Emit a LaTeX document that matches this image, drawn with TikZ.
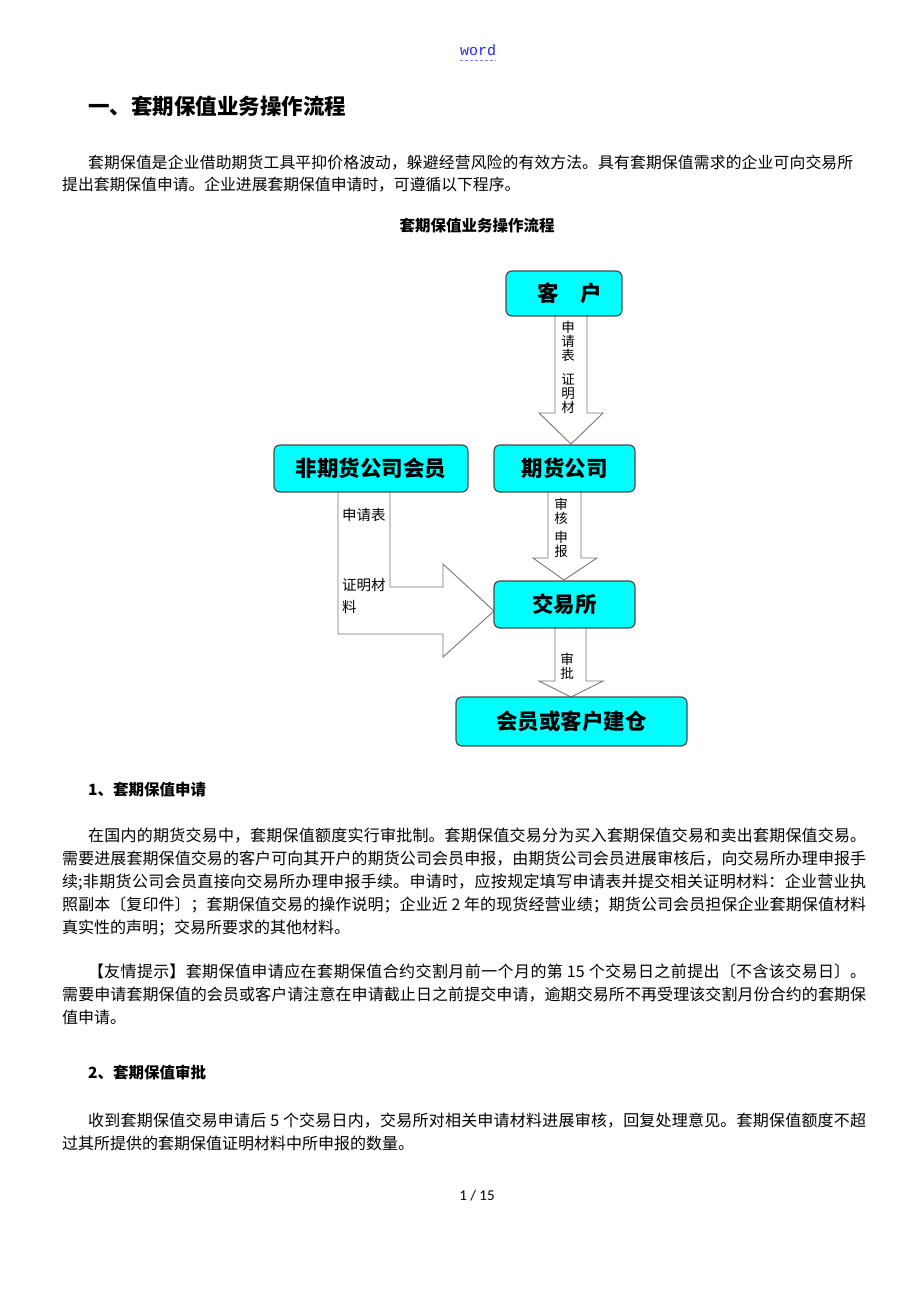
\documentclass[tikz,border=0pt]{standalone}
\usepackage{fontspec}
\usetikzlibrary{calc}
\newfontfamily\cjk{Noto Sans CJK SC}
\newfontfamily\monof{Liberation Mono}
\newfontfamily\calib{Carlito}
\XeTeXlinebreaklocale "zh"
\XeTeXlinebreakskip=0pt plus 1.5pt
\setlength{\parindent}{0pt}
\definecolor{boxc}{HTML}{00FFFF}
\definecolor{edgec}{HTML}{4A4A4A}
\definecolor{arrc}{HTML}{767676}
\definecolor{linkblue}{HTML}{2626FF}
\definecolor{linkul}{HTML}{8080FF}
\begin{document}
\begin{tikzpicture}[x=1pt,y=-1pt,
  para/.style={anchor=north west, inner sep=0pt, text width=804pt, align=justify,
    font=\cjk\fontsize{16}{23}\selectfont},
  head/.style={anchor=west, inner sep=0pt, font=\cjk\bfseries\fontsize{15.5}{18}\selectfont},
  flowbox/.style={draw=edgec, line width=1.2pt, fill=boxc, rounded corners=6pt, inner sep=0pt,
    font=\cjk\bfseries\fontsize{21.5}{24}\selectfont},
  blockarr/.style={draw=arrc, line width=0.9pt, fill=white, line join=miter},
  vlab/.style={inner sep=0pt, align=center, font=\cjk\fontsize{13.5}{14}\selectfont},
  hlab/.style={inner sep=0pt, anchor=west, font=\cjk\fontsize{14.5}{15}\selectfont}
]
\useasboundingbox (0,0) rectangle (920,1302);
\fill[white] (0,0) rectangle (920,1302);

% header
\node[inner sep=0pt, text=linkblue, font=\monof\fontsize{15}{15}\selectfont] (word) at (478,50) {word};
\draw[linkul, line width=1pt, dash pattern=on 3pt off 2pt]
  ($(word.south west)+(0,5)$) -- ($(word.south east)+(0,5)$);

\node[anchor=west, inner sep=0pt, font=\cjk\bfseries\fontsize{21.5}{24}\selectfont] (title) at (88,106) {一、套期保值业务操作流程};

\node[para, text width=791pt, font=\cjk\fontsize{15.8}{22}\selectfont] (intro) at (62,155) {\hspace*{26pt}套期保值是企业借助期货工具平抑价格波动，躲避经营风险的有效方法。具有套期保值需求的企业可向交易所\linebreak
提出套期保值申请。企业进展套期保值申请时，可遵循以下程序。};

\node[inner sep=0pt, font=\cjk\bfseries\fontsize{15.5}{18}\selectfont] (cap) at (477,226) {套期保值业务操作流程};

% flowchart arrows
\draw[blockarr] (555,310) -- (555,413) -- (539,413) -- (571,444) -- (603,413) -- (587,413) -- (587,310) -- cycle;
\draw[blockarr] (548,486) -- (548,558) -- (533,558) -- (564,580) -- (597,558) -- (581,558) -- (581,486) -- cycle;
\draw[blockarr] (555,622) -- (555,681) -- (539,681) -- (571,697) -- (603,681) -- (586,681) -- (586,622) -- cycle;
\draw[blockarr] (338,486) -- (338,634) -- (443,634) -- (443,657) -- (494,611) -- (443,564) -- (443,587) -- (390,587) -- (390,486) -- cycle;

% flowchart boxes
\node[flowbox, minimum width=116pt, minimum height=45pt] (kehu) at (564,293.5) {\hspace*{12pt}客\hspace{22pt}户};
\node[flowbox, minimum width=141pt, minimum height=47pt] (qh) at (564.5,468.5) {期货公司};
\node[flowbox, minimum width=194pt, minimum height=47pt] (fqh) at (371,468.5) {非期货公司会员};
\node[flowbox, minimum width=141pt, minimum height=47pt] (jys) at (564.5,604.5) {交易所};
\node[flowbox, minimum width=231pt, minimum height=49pt] (jc) at (571.5,721.5) {会员或客户建仓};

% arrow labels
\node[vlab] (l1a) at (568,341) {申\\请\\表};
\node[vlab] (l1b) at (568,394) {证\\明\\材};
\node[vlab] (l2a) at (561,511) {审\\核};
\node[vlab] (l2b) at (561,544) {申\\报};
\node[vlab] (l3a) at (567,666) {审\\批};
\node[hlab] (l4a) at (342,515) {申请表};
\node[hlab] (l4b) at (342,585) {证明材};
\node[hlab] (l4c) at (342,607) {料};

% section 1
\node[head] (h1) at (88,790) {1、套期保值申请};
\node[para] (p1) at (62,828) {\hspace*{26pt}在国内的期货交易中，套期保值额度实行审批制。套期保值交易分为买入套期保值交易和卖出套期保值交易。\linebreak
需要进展套期保值交易的客户可向其开户的期货公司会员申报，由期货公司会员进展审核后，向交易所办理申报手\linebreak
续;非期货公司会员直接向交易所办理申报手续。申请时，应按规定填写申请表并提交相关证明材料：企业营业执\linebreak
照副本〔复印件〕；套期保值交易的操作说明；企业近 2 年的现货经营业绩；期货公司会员担保企业套期保值材料\linebreak
真实性的声明；交易所要求的其他材料。};

\node[para] (p2) at (62,964) {\hspace*{26pt}【友情提示】套期保值申请应在套期保值合约交割月前一个月的第 15 个交易日之前提出〔不含该交易日〕。\linebreak
需要申请套期保值的会员或客户请注意在申请截止日之前提交申请，逾期交易所不再受理该交割月份合约的套期保\linebreak
值申请。};

% section 2
\node[head] (h2) at (88,1073) {2、套期保值审批};
\node[para] (p3) at (62,1113) {\hspace*{26pt}收到套期保值交易申请后 5 个交易日内，交易所对相关申请材料进展审核，回复处理意见。套期保值额度不超\linebreak
过其所提供的套期保值证明材料中所申报的数量。};

\node[inner sep=0pt, font=\calib\fontsize{15}{15}\selectfont] (pg) at (477,1196) {1 / 15};
\end{tikzpicture}
\end{document}
